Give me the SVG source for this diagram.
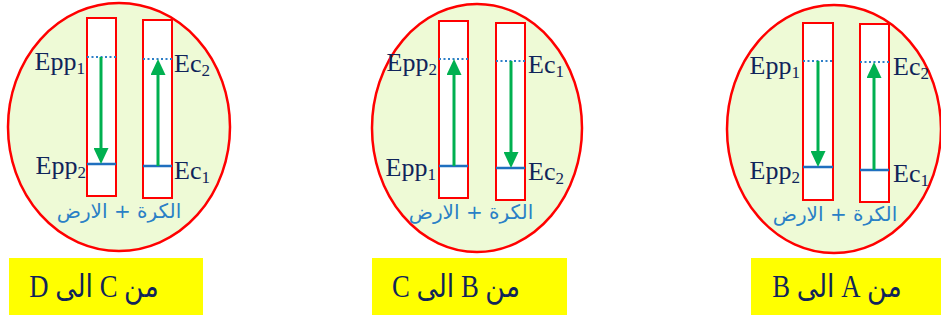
<svg xmlns="http://www.w3.org/2000/svg" width="941" height="320" viewBox="0 0 941 320">
<style>
.ell{fill:#eefad6;stroke:#ff0000;stroke-width:2.5}
.bar{fill:#ffffff;stroke:#ff0000;stroke-width:2}
.dot{stroke:#2e7fc8;stroke-width:2;stroke-dasharray:2 2.5;fill:none}
.lvl{stroke:#1f6fbf;stroke-width:2.5;fill:none}
.arr{stroke:#00b050;stroke-width:3;fill:none;marker-end:url(#ah)}
.lab{font-family:"Liberation Serif","Times New Roman",serif;font-size:26px;fill:#10245a}
.sub{font-size:17px}
.ar{font-family:"DejaVu Sans",sans-serif;font-size:20px;fill:#2a80c6}
.ybox{fill:#ffff00}
.cap{font-family:"Liberation Serif","DejaVu Sans",serif;font-size:31px;fill:#10245a}
</style>
<defs>
<marker id="ah" markerUnits="userSpaceOnUse" markerWidth="16" markerHeight="15" refX="0" refY="7.5" orient="auto">
<path d="M0,0 L16,7.5 L0,15 z" fill="#00b050"/>
</marker>
</defs>

<g id="system1">
<ellipse class="ell" cx="119" cy="127" rx="111" ry="124"/>
<rect class="bar" x="87" y="18" width="29" height="178"/>
<rect class="bar" x="143" y="20" width="29" height="178"/>
<line class="dot" x1="87" y1="57" x2="116" y2="57"/>
<line class="dot" x1="143" y1="59" x2="172" y2="59"/>
<line class="lvl" x1="87" y1="164" x2="116" y2="164"/>
<line class="lvl" x1="143" y1="166" x2="172" y2="166"/>
<text class="lab" x="85" y="70" text-anchor="end">Epp<tspan class="sub" dy="4">1</tspan></text>
<text class="lab" x="86" y="174" text-anchor="end">Epp<tspan class="sub" dy="4">2</tspan></text>
<text class="lab" x="174" y="72">Ec<tspan class="sub" dy="4">2</tspan></text>
<text class="lab" x="174" y="179">Ec<tspan class="sub" dy="4">1</tspan></text>
<text class="ar" x="119" y="218" text-anchor="middle">الكرة + الارض</text>
</g>

<g id="system2">
<ellipse class="ell" cx="477" cy="128" rx="105" ry="124"/>
<rect class="bar" x="439" y="21" width="29" height="177"/>
<rect class="bar" x="496" y="23" width="29" height="177"/>
<line class="dot" x1="439" y1="59" x2="468" y2="59"/>
<line class="dot" x1="496" y1="61" x2="525" y2="61"/>
<line class="lvl" x1="439" y1="166" x2="468" y2="166"/>
<line class="lvl" x1="496" y1="168" x2="525" y2="168"/>
<text class="lab" x="437" y="71" text-anchor="end">Epp<tspan class="sub" dy="4">2</tspan></text>
<text class="lab" x="436" y="176" text-anchor="end">Epp<tspan class="sub" dy="4">1</tspan></text>
<text class="lab" x="528" y="73">Ec<tspan class="sub" dy="4">1</tspan></text>
<text class="lab" x="528" y="180">Ec<tspan class="sub" dy="4">2</tspan></text>
<text class="ar" x="471" y="219" text-anchor="middle">الكرة + الارض</text>
</g>

<g id="system3">
<ellipse class="ell" cx="834" cy="129" rx="107" ry="124"/>
<rect class="bar" x="803" y="23" width="30" height="177"/>
<rect class="bar" x="860" y="24" width="29" height="178"/>
<line class="dot" x1="803" y1="61" x2="833" y2="61"/>
<line class="dot" x1="860" y1="62" x2="889" y2="62"/>
<line class="lvl" x1="803" y1="167" x2="833" y2="167"/>
<line class="lvl" x1="860" y1="170" x2="889" y2="170"/>
<text class="lab" x="800" y="74" text-anchor="end">Epp<tspan class="sub" dy="4">1</tspan></text>
<text class="lab" x="800" y="179" text-anchor="end">Epp<tspan class="sub" dy="4">2</tspan></text>
<text class="lab" x="893" y="75">Ec<tspan class="sub" dy="4">2</tspan></text>
<text class="lab" x="893" y="182">Ec<tspan class="sub" dy="4">1</tspan></text>
<text class="ar" x="835" y="221" text-anchor="middle">الكرة + الارض</text>
</g>

<g id="connectors">
<line class="arr" x1="101" y1="57" x2="101" y2="148"/>
<line class="arr" x1="158" y1="166" x2="158" y2="75"/>
<line class="arr" x1="454" y1="166" x2="454" y2="75"/>
<line class="arr" x1="511" y1="61" x2="511" y2="152"/>
<line class="arr" x1="818" y1="61" x2="818" y2="151"/>
<line class="arr" x1="874" y1="170" x2="874" y2="78"/>
</g>

<g id="label-CD">
<rect class="ybox" x="9" y="258" width="194" height="57"/>
<text class="cap" transform="translate(94,297) scale(0.86,1)" text-anchor="middle" direction="rtl">من C الى D</text>
</g>
<g id="label-BC">
<rect class="ybox" x="372" y="258" width="195" height="57"/>
<text class="cap" transform="translate(456,297) scale(0.86,1)" text-anchor="middle" direction="rtl">من B الى C</text>
</g>
<g id="label-AB">
<rect class="ybox" x="751" y="258" width="195" height="57"/>
<text class="cap" transform="translate(837,297) scale(0.86,1)" text-anchor="middle" direction="rtl">من A الى B</text>
</g>
</svg>
